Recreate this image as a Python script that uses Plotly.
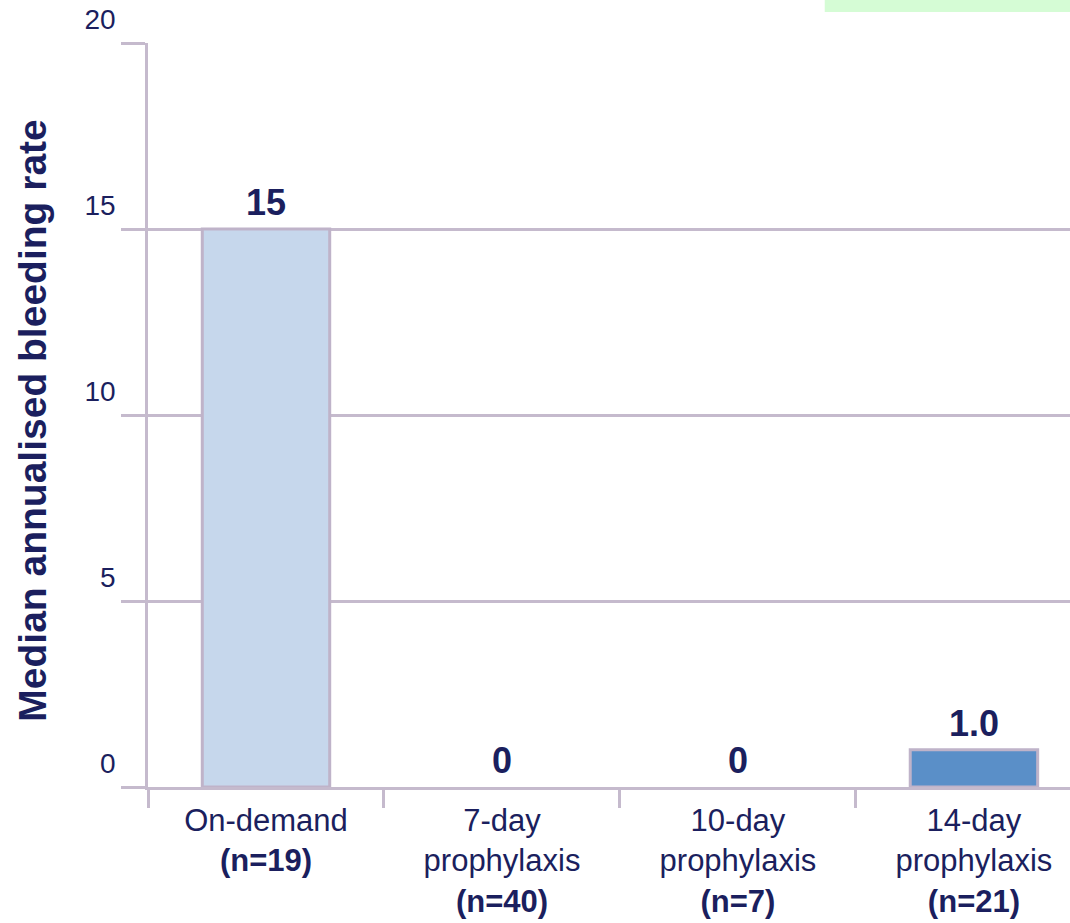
import plotly.graph_objects as go

# Median annualised bleeding rate by treatment regimen
categories = [
    "On-demand<br><b>(n=19)</b>",
    "7-day<br>prophylaxis<br><b>(n=40)</b>",
    "10-day<br>prophylaxis<br><b>(n=7)</b>",
    "14-day<br>prophylaxis<br><b>(n=21)</b>",
]
median_abr = [15, 0, 0, 1.0]
value_labels = ["15", "0", "0", "1.0"]
bar_colors = ["#c6d7ec", "#9bb7dc", "#7aa2d2", "#5a8fc8"]

y_ticks = [0, 5, 10, 15, 20]

NAVY = "#1b1f5e"
GRID = "#c5bacd"
FONT = "Liberation Sans, Arial, sans-serif"

# outline only where a bar has height
outline_widths = [3 if v > 0 else 0 for v in median_abr]

fig = go.Figure()
fig.add_trace(go.Bar(
    x=categories,
    y=median_abr,
    width=0.54,
    marker=dict(color=bar_colors, line=dict(color="#bfb3c9", width=outline_widths)),
    hoverinfo="skip",
    showlegend=False,
))

# Value labels sitting above each bar
for cat, val, lab in zip(categories, median_abr, value_labels):
    fig.add_annotation(
        x=cat, y=val, text=f"<b>{lab}</b>", showarrow=False,
        xref="x", yref="y", yanchor="bottom", yshift=4,
        font=dict(family=FONT, size=36, color=NAVY),
    )

# Vertical axis title
fig.add_annotation(
    x=-0.125, y=0.492, xref="paper", yref="paper",
    text="<b>Median annualised bleeding rate</b>", textangle=-90,
    showarrow=False, xanchor="center", yanchor="middle",
    font=dict(family=FONT, size=39, color=NAVY),
)

# Light green tab at the top right
fig.add_shape(
    type="rect", xref="paper", yref="paper",
    x0=0.734, x1=1.0, y0=1.0417, y1=1.06,
    fillcolor="#d5fcd5", line=dict(width=0), layer="below",
)

fig.update_layout(
    width=1070, height=923,
    margin=dict(l=148, r=0, t=43, b=136),
    plot_bgcolor="white", paper_bgcolor="white",
    font=dict(family=FONT, color=NAVY),
)

fig.update_xaxes(
    type="category",
    range=[-0.5, 3.407],
    automargin=False,
    showline=True, linecolor=GRID, linewidth=2.5,
    ticks="outside", tickson="boundaries", ticklen=18,
    tickcolor=GRID, tickwidth=2.5,
    tickfont=dict(family=FONT, size=31, color=NAVY),
    ticklabelstandoff=4,
    showgrid=False, zeroline=False,
)

fig.update_yaxes(
    range=[0, 20],
    automargin=False,
    tickvals=y_ticks,
    ticktext=[str(v) for v in y_ticks],
    showline=True, linecolor=GRID, linewidth=2.5,
    ticks="outside", ticklen=24, tickcolor=GRID, tickwidth=2.5,
    showgrid=True, gridcolor=GRID, gridwidth=2.5,
    zeroline=False,
    tickfont=dict(family=FONT, size=28, color=NAVY),
    ticklabelshift=-24,
)

fig.write_html("out.html")
